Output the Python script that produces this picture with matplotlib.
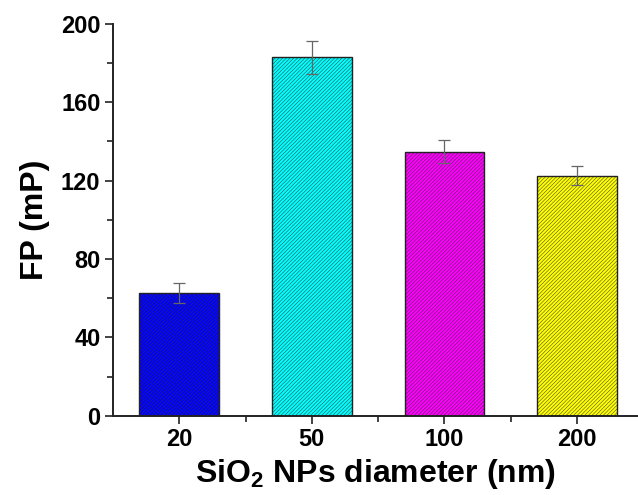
import matplotlib

matplotlib.use("Agg")
import matplotlib.pyplot as plt
from matplotlib.ticker import MultipleLocator, FixedLocator

plt.rcParams["font.family"] = ["Liberation Sans", "DejaVu Sans"]
plt.rcParams["font.weight"] = "bold"
plt.rcParams["mathtext.fontset"] = "custom"
plt.rcParams["mathtext.rm"] = "Liberation Sans:bold"
plt.rcParams["mathtext.default"] = "rm"
plt.rcParams["hatch.linewidth"] = 0.35

# data
diameters = ["20", "50", "100", "200"]
fp_values = [62.5, 182.8, 134.8, 122.5]
fp_errors = [5.0, 8.5, 6.0, 5.0]
bar_colors = ["#0000ff", "#00ffff", "#ff00ff", "#ffff00"]

fig = plt.figure(figsize=(6.38, 4.95), dpi=100)
ax = fig.add_axes([0.177, 0.16, 0.823, 0.792])

xs = list(range(len(diameters)))
ax.bar(xs, fp_values, width=0.6, color=bar_colors, edgecolor="none", zorder=2)
# hatch layer in a softer grey, outline on top
ax.bar(xs, fp_values, width=0.6, color="none", edgecolor="#333333",
       linewidth=0, hatch="/////////", zorder=2.1)
ax.bar(xs, fp_values, width=0.6, color="none", edgecolor="#222222",
       linewidth=1.0, zorder=2.2)
ax.errorbar(xs, fp_values, yerr=fp_errors, fmt="none", ecolor="#666666",
            elinewidth=0.9, capsize=4, capthick=0.9, zorder=3)

ax.set_xlim(-0.5, 3.46)
ax.set_ylim(0, 200)
ax.set_xticks(xs)
ax.set_xticklabels(diameters)
ax.xaxis.set_minor_locator(FixedLocator([0.5, 1.5, 2.5]))
ax.yaxis.set_major_locator(MultipleLocator(40))
ax.yaxis.set_minor_locator(MultipleLocator(20))

for side in ("top", "right"):
    ax.spines[side].set_visible(False)
for side in ("left", "bottom"):
    ax.spines[side].set_linewidth(1.4)
    ax.spines[side].set_color("#222222")

ax.tick_params(which="major", direction="out", length=6, width=1.2,
               labelsize=17, pad=3, color="#222222")
ax.tick_params(which="minor", direction="out", length=4, width=1.2, color="#222222")

ax.set_xlabel("SiO$_2$ NPs diameter (nm)", fontsize=23, fontweight="bold", labelpad=4)
ax.set_ylabel("FP (mP)", fontsize=23, fontweight="bold", labelpad=8)

fig.savefig("out.png", dpi=100)
